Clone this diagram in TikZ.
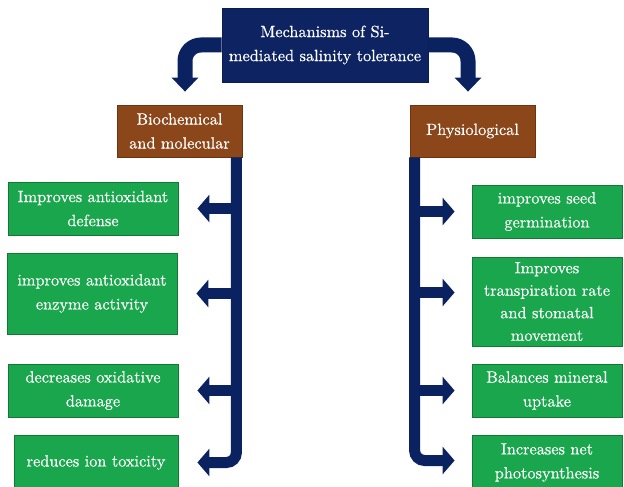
\documentclass[tikz,border=0pt]{standalone}
\usepackage{fontspec}
\newfontfamily\diagfont{lmroman10-regular.otf}[RawFeature={embolden=0.4}]
\usetikzlibrary{arrows.meta,calc}
\definecolor{navy}{RGB}{14,36,98}
\definecolor{navyarrow}{RGB}{10,34,96}
\definecolor{brownbox}{RGB}{139,70,26}
\definecolor{brownedge}{RGB}{110,52,16}
\definecolor{greenbox}{RGB}{26,166,76}
\definecolor{greenedge}{RGB}{18,120,52}
\begin{document}
\begin{tikzpicture}[x=1pt,y=-1pt,
  basebox/.style={align=center,text=white,inner sep=2pt,line width=0.8pt,
    font=\diagfont\fontsize{16.3}{24}\selectfont},
  topbox/.style={basebox,fill=navy,draw=navy!80!black,minimum width=206pt,minimum height=74pt},
  catbox/.style={basebox,fill=brownbox,draw=brownedge,minimum width=125pt,minimum height=52pt},
  greenL/.style={basebox,fill=greenbox,draw=greenedge,minimum width=170pt},
  greenR/.style={basebox,fill=greenbox,draw=greenedge,minimum width=150pt},
  bigarrow/.style={draw=navyarrow,line width=15pt,rounded corners=16pt,
    -{Triangle[length=14pt,width=26pt]},shorten >=13pt},
  barline/.style={draw=navyarrow,line width=11pt,rounded corners=10pt,
    -{Triangle[length=12pt,width=27pt]}},
  sidearrow/.style={draw=navyarrow,line width=11pt,
    -{Triangle[length=12pt,width=27pt]}}
]
\useasboundingbox (0,0) rectangle (624,487);

\node[topbox] (top) at (325,45) {Mechanisms of Si-\\mediated salinity tolerance};
\node[catbox] (bio) at (179.5,131) {Biochemical\\and molecular};
\node[catbox] (phys) at (472.5,131) {Physiological};

\node[greenL,minimum height=53pt] (L1) at (93,208.5) {Improves antioxidant\\defense};
\node[greenL,minimum height=81pt] (L2) at (92,293.5) {improves antioxidant\\enzyme activity};
\node[greenL,minimum height=53pt] (L3) at (93,390.5) {decreases oxidative\\damage};
\node[basebox,fill=greenbox,draw=greenedge,minimum width=164pt,minimum height=55pt] (L4) at (96,462.5) {reduces ion toxicity};

\node[greenR,minimum height=53pt] (R1) at (547,211.5) {improves seed\\germination};
\node[greenR,minimum height=89pt,font=\diagfont\fontsize{16.3}{22.5}\selectfont] (R2) at (547,301.5) {Improves\\transpiration rate\\and stomatal\\movement};
\node[greenR,minimum height=53pt] (R3) at (547,390.5) {Balances mineral\\uptake};
\node[greenR,minimum height=55pt] (R4) at (547,462.5) {Increases net\\photosynthesis};

% top curved arrows
\draw[bigarrow] (top.west) -| ([xshift=5.5pt]bio.north);
\draw[bigarrow] (top.east) -| ([xshift=-4.5pt]phys.north);

% left bar
\coordinate (lb) at ([xshift=-6pt]bio.south east);
\draw[barline,shorten >=19pt] (lb) -- (lb |- L4.east) -- (L4.east);
\draw[sidearrow,shorten >=19pt] (lb |- L1.east) -- (L1.east);
\draw[sidearrow,shorten >=19pt] (lb |- L2.east) -- (L2.east);
\draw[sidearrow,shorten >=19pt] (lb |- L3.east) -- (L3.east);

% right bar
\coordinate (rb) at ([xshift=5pt]phys.south west);
\draw[barline,shorten >=17pt] (rb) -- ([yshift=2pt]rb |- R4.west) -- ([yshift=2pt]R4.west);
\draw[sidearrow,shorten >=17pt] (rb |- R1.west) -- (R1.west);
\draw[sidearrow,shorten >=17pt] ([yshift=9pt]rb |- R2.west) -- ([yshift=9pt]R2.west);
\draw[sidearrow,shorten >=17pt] (rb |- R3.west) -- (R3.west);
\end{tikzpicture}
\end{document}
